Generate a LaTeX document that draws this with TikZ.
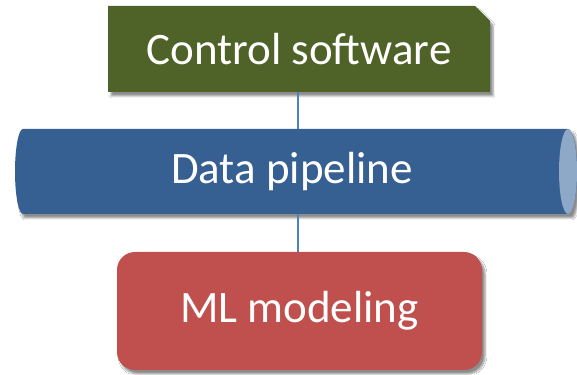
\documentclass[tikz,border=0pt]{standalone}
\usepackage{fontspec}
\setmainfont{Carlito}
\usetikzlibrary{shapes.misc,shadows,shadows.blur}
\definecolor{ctrlgreen}{HTML}{4F6228}
\definecolor{pipeblue}{HTML}{376092}
\definecolor{pipecap}{HTML}{8EA8C7}
\definecolor{mlred}{HTML}{C0504D}
\definecolor{linkblue}{HTML}{4F81BD}
\tikzset{
  softshadow/.style={blur shadow={shadow xshift=3pt,shadow yshift=-4pt,shadow blur steps=6,shadow blur extra rounding=1pt,shadow opacity=45}},
  boxtext/.style={text=white,font=\fontsize{45}{54}\selectfont,inner sep=0pt},
  link/.style={draw=linkblue,line width=1.1pt}
}
\begin{document}
\begin{tikzpicture}[x=1pt,y=1pt]
\useasboundingbox[fill=white] (0,0) rectangle (577,374);
\node[boxtext,chamfered rectangle,chamfered rectangle corners=north east,
  chamfered rectangle xsep=7.5pt,chamfered rectangle ysep=7.5pt,
  fill=ctrlgreen,minimum width=382pt,minimum height=86pt,softshadow] (ctrl) at (299,325) {Control software};
% pipe body
\fill[pipeblue,softshadow] (23,245) -- (568,245) arc[start angle=90,end angle=-90,x radius=9,y radius=42.5]
  -- (23,160) arc[start angle=270,end angle=90,x radius=8,y radius=42.5] -- cycle;
\fill[pipecap] (568,202.5) ellipse[x radius=9,y radius=42.5];
\node[boxtext,minimum width=553pt,minimum height=85pt] (pipe) at (292,202.5) {Data pipeline};
\node[boxtext,rounded corners=18pt,fill=mlred,minimum width=365pt,minimum height=118pt,softshadow] (ml) at (299.5,63) {ML modeling};
\draw[link] (ctrl.south -| 298,0) -- (pipe.north -| 298,0);
\draw[link] (pipe.south -| 298,0) -- (ml.north -| 298,0);
\end{tikzpicture}
\end{document}
